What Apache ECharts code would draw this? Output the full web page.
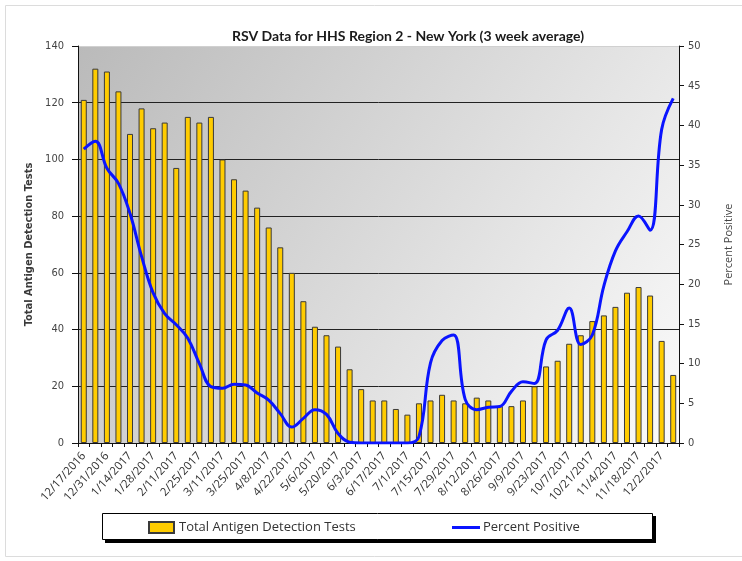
<!DOCTYPE html>
<html>
<head>
<meta charset="utf-8">
<script src="https://cdn.jsdelivr.net/npm/echarts@6/dist/echarts.min.js"></script>
<style>html,body{margin:0;padding:0;background:#fff;}#c{width:742px;height:561px;}</style>
</head>
<body>
<div id="c"></div>
<script>
var weeks = ['12/17/2016','12/24/2016','12/31/2016','1/7/2017','1/14/2017','1/21/2017','1/28/2017','2/4/2017','2/11/2017','2/18/2017','2/25/2017','3/4/2017','3/11/2017','3/18/2017','3/25/2017','4/1/2017','4/8/2017','4/15/2017','4/22/2017','4/29/2017','5/6/2017','5/13/2017','5/20/2017','5/27/2017','6/3/2017','6/10/2017','6/17/2017','6/24/2017','7/1/2017','7/8/2017','7/15/2017','7/22/2017','7/29/2017','8/5/2017','8/12/2017','8/19/2017','8/26/2017','9/2/2017','9/9/2017','9/16/2017','9/23/2017','9/30/2017','10/7/2017','10/14/2017','10/21/2017','10/28/2017','11/4/2017','11/11/2017','11/18/2017','11/25/2017','12/2/2017','12/9/2017'];
var totalTests = [121,132,131,124,109,118,111,113,97,115,113,115,100,93,89,83,76,69,60,50,41,38,34,26,19,15,15,12,10,14,15,17,15,14,16,15,13,13,15,20,27,29,35,38,43,45,48,53,55,52,36,24];
var percentPositive = [37,38,34.6,32.7,28.9,23.5,18.9,16.3,14.9,13.2,10.0,7.1,6.9,7.4,7.3,6.3,5.4,3.7,2.0,3.1,4.2,3.6,1.2,0.1,0,0,0,0,0,0.8,10.1,12.9,13.6,5.5,4.2,4.5,4.6,6.5,7.7,7.5,13.0,14.2,17.0,12.4,13.6,19.8,24.2,26.6,28.6,26.8,39.5,43.4];
var leftTicks = [0,140,20];
var rightTicks = [0,50,5];

var narrow = "'Liberation Sans Narrow','DejaVu Sans Condensed',sans-serif";
var chart = echarts.init(document.getElementById('c'), null, {renderer:'canvas'});
chart.setOption({
  animation:false,
  backgroundColor:'#ffffff',
  title:{text:'RSV Data for HHS Region 2 - New York (3 week average)', left:403, textAlign:'center', top:24,
    textStyle:{fontFamily:'Lato', fontWeight:'bold', fontSize:14, color:'#1a1a1a'}},
  graphic:[
    {type:'rect', shape:{x:5.5,y:5.5,width:745,height:551}, style:{fill:'none', stroke:'#dcdcdc', lineWidth:1}, z:-10},
    {type:'rect', shape:{x:105,y:516,width:551,height:27}, style:{fill:'#000'}, z:-5},
    {type:'rect', shape:{x:102.5,y:513.5,width:550,height:26}, style:{fill:'#fff', stroke:'#000', lineWidth:1}, z:-4}
  ],
  legend:[
    {left:148, top:521, padding:0, itemWidth:25, itemHeight:11,
      textStyle:{fontFamily:'Open Sans', fontSize:13, color:'#333'},
      data:[{name:'Total Antigen Detection Tests', icon:'rect'}]},
    {left:452, top:521, padding:0, itemWidth:28, itemHeight:11,
      textStyle:{fontFamily:'Open Sans', fontSize:13, color:'#333', padding:[0,0,0,-2]},
      data:[{name:'Percent Positive', icon:'path://M0,0 L28,0 L28,3 L0,3 Z', itemStyle:{color:'#0a14ff', borderWidth:0}}]}
  ],
  grid:{left:78, right:56, top:46, bottom:118, show:true, borderWidth:0,
    backgroundColor:new echarts.graphic.LinearGradient(0,0,1,1,[{offset:0,color:'#bababa'},{offset:1,color:'#fbfbfb'}])},
  xAxis:{type:'category', data:weeks, boundaryGap:true,
    axisLine:{lineStyle:{color:'#111', width:1}},
    axisTick:{show:true, interval:0, length:4, lineStyle:{color:'#111'}},
    axisLabel:{interval:1, rotate:48, fontFamily:'Open Sans', fontSize:11.5, color:'#333', margin:11}},
  yAxis:[
    {type:'value', min:leftTicks[0], max:leftTicks[1], interval:leftTicks[2],
      name:'Total Antigen Detection Tests', nameLocation:'middle', nameGap:40, nameRotate:90,
      nameTextStyle:{fontFamily:narrow, fontSize:11, fontWeight:'bold', color:'#3a3a3a'},
      axisLine:{show:true, lineStyle:{color:'#111', width:1}},
      axisTick:{show:true, length:6, lineStyle:{color:'#111'}},
      axisLabel:{fontFamily:narrow, fontSize:11, color:'#444', margin:14},
      splitLine:{show:true, lineStyle:{color:['#222','#222','#222','#222','#222','#222','#222','#d0d0d0'], width:1}}},
    {type:'value', min:rightTicks[0], max:rightTicks[1], interval:rightTicks[2], position:'right',
      name:'Percent Positive', nameLocation:'middle', nameGap:44, nameRotate:90,
      nameTextStyle:{fontFamily:'Open Sans', fontSize:11, color:'#444'},
      axisLine:{show:true, lineStyle:{color:'#111', width:1}},
      axisTick:{show:true, length:5, lineStyle:{color:'#111'}},
      axisLabel:{fontFamily:narrow, fontSize:11, color:'#444', margin:9},
      splitLine:{show:false}}
  ],
  series:[
    {name:'Total Antigen Detection Tests', type:'bar', yAxisIndex:0, data:totalTests, barWidth:6,
      itemStyle:{color:'#ffcc00', borderColor:'#3a3a3a', borderWidth:1}},
    {name:'Percent Positive', type:'line', yAxisIndex:1, data:percentPositive, smooth:0.4,
      symbol:'none', lineStyle:{color:'#0a14ff', width:3}, itemStyle:{color:'#0a14ff'}, z:5}
  ]
});
</script>
</body>
</html>
